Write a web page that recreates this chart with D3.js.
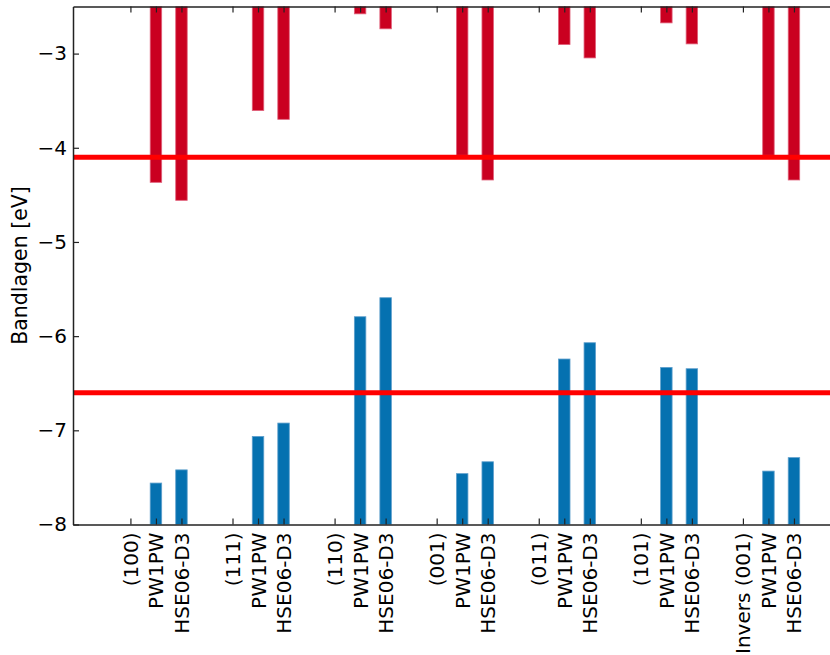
<!DOCTYPE html>
<html>
<head>
<meta charset="utf-8">
<script src="https://cdn.jsdelivr.net/npm/d3@7"></script>
<style>
  body { margin: 0; background: #fff; }
  text { font-family: "DejaVu Sans", sans-serif; fill: #000; }
  .axis path, .axis line { stroke: #222; }
</style>
</head>
<body>
<div id="chart"></div>
<script>
// surfaces and the two methods per surface
const groups = ["(100)", "(111)", "(110)", "(001)", "(011)", "(101)", "Invers (001)"];
const methods = ["PW1PW", "HSE06-D3"];

// lower band edge (blue bars, drawn up from -8)
const pw1pwLower = [-7.56, -7.065, -5.794, -7.46, -6.243, -6.332, -7.433];
const hseLower = [-7.42, -6.923, -5.592, -7.334, -6.07, -6.346, -7.29];

// upper band edge (red bars, hanging down from the top)
const pw1pwUpper = [-4.367, -3.605, -2.578, -4.08, -2.904, -2.674, -4.08];
const hseUpper = [-4.558, -3.698, -2.737, -4.342, -3.046, -2.897, -4.342];

// reference levels
const refLines = [-4.1, -6.6];

const yTicks = [-8, -7, -6, -5, -4, -3];
const yDomain = [-8, -2.5];

const width = 830, height = 655;
const margin = {top: 6.5, left: 73, bottom: 130.5};
const plotRight = 845;

const svg = d3.select("#chart")
  .append("svg")
  .attr("width", width)
  .attr("height", height);

const x = d3.scaleLinear().domain([-2.25, 28]).range([margin.left, plotRight]);
const y = d3.scaleLinear().domain(yDomain).range([height - margin.bottom, margin.top]);

// tick positions: group label, then one slot per method, then an empty slot
const tickPos = [];
const tickLabels = {};
groups.forEach((g, i) => {
  tickPos.push(4 * i);
  tickLabels[4 * i] = g;
  methods.forEach((m, k) => {
    tickPos.push(4 * i + k + 1);
    tickLabels[4 * i + k + 1] = m;
  });
});

const bars = [];
groups.forEach((g, i) => {
  bars.push({pos: 4 * i + 1, lower: pw1pwLower[i], upper: pw1pwUpper[i]});
  bars.push({pos: 4 * i + 2, lower: hseLower[i], upper: hseUpper[i]});
});

const barW = x(0.225) - x(-0.225);

svg.append("clipPath").attr("id", "plot-clip")
  .append("rect")
  .attr("x", margin.left)
  .attr("y", margin.top)
  .attr("width", plotRight - margin.left)
  .attr("height", y(yDomain[0]) - margin.top);

const plot = svg.append("g").attr("clip-path", "url(#plot-clip)");

plot.append("g").selectAll("rect").data(bars).enter()
  .append("rect")
  .attr("x", d => x(d.pos) - barW / 2)
  .attr("y", d => y(d.lower))
  .attr("width", barW)
  .attr("height", d => y(yDomain[0]) - y(d.lower))
  .attr("fill", "#0571b0")
  .attr("stroke", "#5e9fcc")
  .attr("stroke-width", 0.8);

plot.append("g").selectAll("rect").data(bars).enter()
  .append("rect")
  .attr("x", d => x(d.pos) - barW / 2)
  .attr("y", y(yDomain[1]) - 2)
  .attr("width", barW)
  .attr("height", d => y(d.upper) - y(yDomain[1]) + 2)
  .attr("fill", "#ca0020")
  .attr("stroke", "#e0607a")
  .attr("stroke-width", 0.8);

plot.append("g").selectAll("line").data(refLines).enter()
  .append("line")
  .attr("x1", margin.left)
  .attr("x2", plotRight)
  .attr("y1", d => y(d))
  .attr("y2", d => y(d))
  .attr("stroke", "#ff0000")
  .attr("stroke-width", 5);

// axes, ticks pointing inward
const left = svg.append("g")
  .attr("class", "axis")
  .attr("transform", `translate(${margin.left},0)`)
  .call(d3.axisLeft(y).tickValues(yTicks).tickFormat(d3.format("")).tickSize(-6).tickSizeOuter(0).tickPadding(6));
left.selectAll("text").style("font-size", "20px");

svg.append("g")
  .attr("class", "axis")
  .attr("transform", `translate(${plotRight},0)`)
  .call(d3.axisRight(y).tickValues(yTicks).tickFormat("").tickSize(-6).tickSizeOuter(0));

svg.append("g")
  .attr("class", "axis")
  .attr("transform", `translate(0,${margin.top})`)
  .call(d3.axisTop(x).tickValues(tickPos).tickFormat("").tickSize(-6).tickSizeOuter(0));

const bottom = svg.append("g")
  .attr("class", "axis")
  .attr("transform", `translate(0,${y(yDomain[0])})`)
  .call(d3.axisBottom(x).tickValues(tickPos).tickFormat(d => tickLabels[d]).tickSize(-6).tickSizeOuter(0));

bottom.selectAll("text")
  .attr("x", 0)
  .attr("y", 0)
  .attr("dy", "0.35em")
  .attr("transform", "translate(0,8) rotate(-90)")
  .style("text-anchor", "end")
  .style("font-size", "20px");

svg.selectAll(".axis path").attr("stroke-width", 1.5);
svg.selectAll(".axis line").attr("stroke-width", 1.2);

svg.append("text")
  .attr("transform", `translate(26.5,${(margin.top + y(yDomain[0])) / 2}) rotate(-90)`)
  .attr("text-anchor", "middle")
  .style("font-size", "20.5px")
  .text("Bandlagen [eV]");
</script>
</body>
</html>
